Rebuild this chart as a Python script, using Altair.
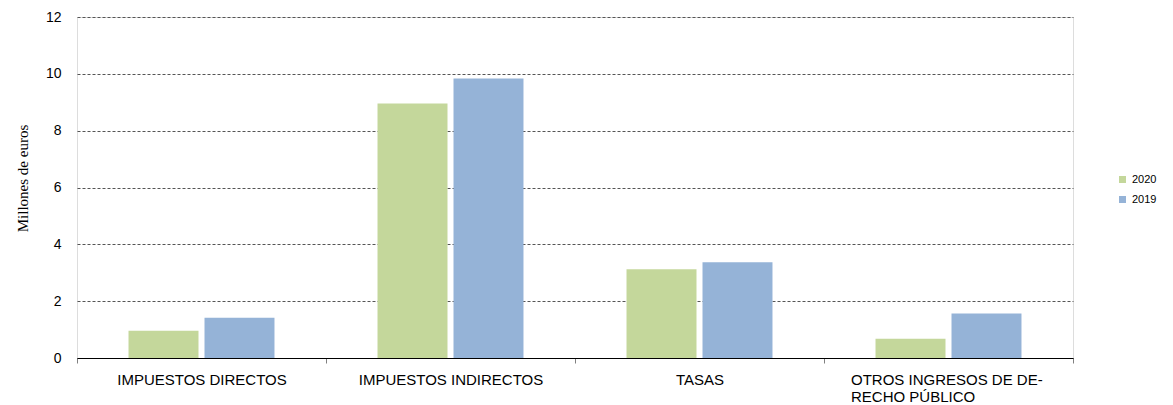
import altair as alt
import pandas as pd

categories = ["IMPUESTOS DIRECTOS", "IMPUESTOS INDIRECTOS", "TASAS", "OTROS INGRESOS DE DERECHO PÚBLICO"]
years = ["2020", "2019"]
values_2020 = [0.96, 8.96, 3.12, 0.68]
values_2019 = [1.42, 9.84, 3.37, 1.57]
colors = ["#C4D79B", "#95B3D7"]
y_ticks = [0, 2, 4, 6, 8, 10, 12]

rows = []
for c, v20, v19 in zip(categories, values_2020, values_2019):
    rows.append({"cat": c, "year": "2020", "value": v20})
    rows.append({"cat": c, "year": "2019", "value": v19})
df = pd.DataFrame(rows)

long_cat = categories[3]

chart = alt.Chart(df).mark_bar().encode(
    x=alt.X("cat:N", sort=categories, title=None,
            scale=alt.Scale(paddingInner=0, paddingOuter=0),
            axis=alt.Axis(
                labelAngle=0, labelLimit=0,
                labelExpr=f"datum.label == '{long_cat}' ? ['OTROS INGRESOS DE DE-', 'RECHO PÚBLICO'] : datum.label",
                labelAlign={"condition": {"test": f"datum.value == '{long_cat}'", "value": "left"}, "value": "center"},
                labelOffset={"condition": {"test": f"datum.value == '{long_cat}'", "value": -98}, "value": 0},
                labelFont="Liberation Sans", labelFontSize=15, labelColor="#000000",
                labelLineHeight=17, labelPadding=9,
                tickBand="extent", tickSize=5, tickColor="#808080",
                domainColor="#000000", domainWidth=1, grid=False)),
    xOffset=alt.XOffset("year:N", sort=years,
                        scale=alt.Scale(paddingInner=0.079, paddingOuter=0.678)),
    y=alt.Y("value:Q", scale=alt.Scale(domain=[0, 12], nice=False),
            axis=alt.Axis(values=y_ticks, title="Millones de euros",
                          titleFont="Liberation Serif", titleFontSize=15, titleFontWeight="normal",
                          titleColor="#000000", titleAngle=-90, titleX=-55, titleY=161,
                          titleAlign="center", titleBaseline="middle",
                          labelFont="Liberation Sans", labelFontSize=14, labelColor="#000000",
                          labelPadding=16, domain=False, ticks=False,
                          grid=True, gridColor="#555555", gridDash=[3, 2], gridWidth=1)),
    color=alt.Color("year:N", scale=alt.Scale(domain=years, range=colors),
                    legend=alt.Legend(title=None, orient="none", legendX=1040, legendY=157,
                                      symbolType="square", symbolSize=49, symbolStrokeWidth=0,
                                      labelFont="Liberation Sans", labelFontSize=11,
                                      labelColor="#000000", rowPadding=8, padding=0,
                                      labelOffset=4)),
).properties(
    width=996, height=341,
    autosize=alt.AutoSizeParams(type="none"),
    padding={"left": 69, "top": 9, "right": 92, "bottom": 45},
).configure_view(stroke=None).configure(background="white")

chart.save("out.html", embed_options={"renderer": "svg", "actions": False})
